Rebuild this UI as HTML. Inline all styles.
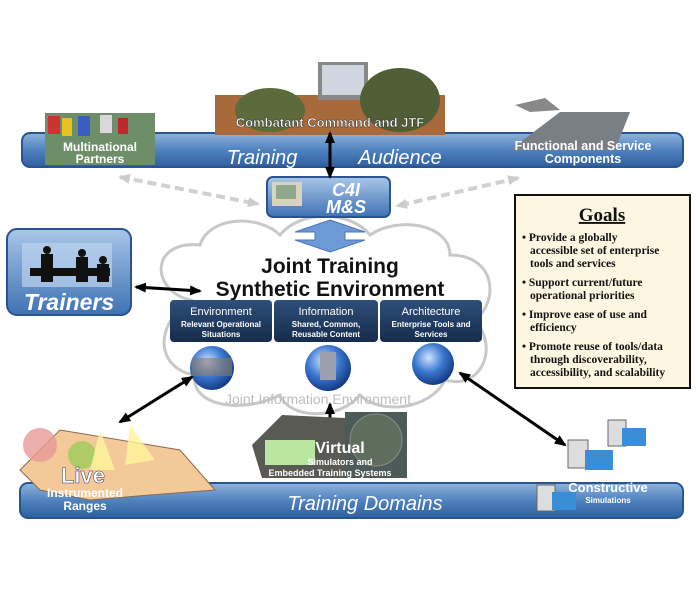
<!DOCTYPE html>
<html><head><meta charset="utf-8"><style>
html,body{margin:0;padding:0;background:#fff}
svg{display:block}
text{font-family:"Liberation Sans",sans-serif}
.s{font-family:"Liberation Serif",serif;font-weight:bold;font-size:11.5px;fill:#111}
</style></head><body>
<svg width="700" height="600" viewBox="0 0 700 600" xmlns="http://www.w3.org/2000/svg">
<defs>
<linearGradient id="bar" x1="0" y1="0" x2="0" y2="1"><stop offset="0" stop-color="#8fb3dc"/><stop offset="0.5" stop-color="#4f82bf"/><stop offset="1" stop-color="#2f5f9e"/></linearGradient>
<linearGradient id="box" x1="0" y1="0" x2="0" y2="1"><stop offset="0" stop-color="#a9c6e8"/><stop offset="1" stop-color="#3f72b4"/></linearGradient>
<linearGradient id="dk" x1="0" y1="0" x2="0" y2="1"><stop offset="0" stop-color="#2e4f7a"/><stop offset="1" stop-color="#162c4c"/></linearGradient>
<radialGradient id="gl" cx="0.4" cy="0.35" r="0.7"><stop offset="0" stop-color="#cfe3ff"/><stop offset="0.5" stop-color="#3a78d0"/><stop offset="1" stop-color="#10337a"/></radialGradient>
<marker id="ah" markerUnits="userSpaceOnUse" markerWidth="12" markerHeight="12" refX="10" refY="6" orient="auto-start-reverse"><path d="M0,1 L12,6 L0,11 z" fill="#000"/></marker>
<marker id="gh" markerUnits="userSpaceOnUse" markerWidth="12" markerHeight="12" refX="10" refY="6" orient="auto-start-reverse"><path d="M0,1 L12,6 L0,11 z" fill="#ccc"/></marker>
</defs>

<!-- cloud -->
<g fill="none" stroke="#c8c8c8" stroke-width="3">
<path d="M190,300 C150,290 150,240 200,245 C210,215 260,215 280,235 C300,210 350,210 370,235 C400,215 450,225 450,255 C495,255 500,300 475,320 C500,350 480,390 445,380 C430,410 380,415 360,395 C340,420 290,420 280,395 C240,415 190,405 195,375 C160,370 150,330 190,300 z"/>
</g>

<!-- top bar -->
<rect x="22" y="133" width="661" height="34" rx="8" fill="url(#bar)" stroke="#2a5490" stroke-width="2"/>
<rect x="45" y="113" width="110" height="52" fill="#6e8e6a"/>
<rect x="48" y="116" width="12" height="18" fill="#c33"/><rect x="62" y="118" width="10" height="18" fill="#e6c320"/><rect x="78" y="116" width="12" height="20" fill="#3a5ec0"/><rect x="100" y="115" width="12" height="18" fill="#d8d8d8"/><rect x="118" y="118" width="10" height="16" fill="#bb2a2a"/>
<rect x="215" y="95" width="230" height="40" fill="#a86a3a"/>
<rect x="318" y="62" width="50" height="38" fill="#888"/><rect x="322" y="65" width="42" height="30" fill="#cfd6e0"/>
<ellipse cx="270" cy="110" rx="35" ry="22" fill="#5d6b3c"/><ellipse cx="400" cy="100" rx="40" ry="32" fill="#4f5e35"/>
<path d="M510,150 L560,112 L630,112 L615,150 z" fill="#7a7f85"/>
<path d="M515,105 L545,98 L560,110 L530,112z" fill="#888"/>
<text x="330" y="127" text-anchor="middle" font-size="13" font-weight="bold" fill="#fff" stroke="#222" stroke-width="0.4">Combatant Command  and  JTF</text>
<text x="100" y="151" text-anchor="middle" font-size="12" font-weight="bold" fill="#fff">Multinational</text>
<text x="100" y="163" text-anchor="middle" font-size="12" font-weight="bold" fill="#fff">Partners</text>
<text x="262" y="164" text-anchor="middle" font-size="20" font-style="italic" fill="#fff">Training</text>
<text x="400" y="164" text-anchor="middle" font-size="20" font-style="italic" fill="#fff">Audience</text>
<text x="583" y="150" text-anchor="middle" font-size="12.5" font-weight="bold" fill="#fff">Functional and Service</text>
<text x="583" y="163" text-anchor="middle" font-size="12.5" font-weight="bold" fill="#fff">Components</text>

<line x1="120" y1="177" x2="258" y2="204" stroke="#d0d0d0" stroke-width="4" stroke-dasharray="9,5" marker-start="url(#gh)" marker-end="url(#gh)"/>
<line x1="518" y1="178" x2="397" y2="206" stroke="#d0d0d0" stroke-width="4" stroke-dasharray="9,5" marker-start="url(#gh)" marker-end="url(#gh)"/>

<!-- C4I -->
<rect x="267" y="177" width="123" height="40" rx="6" fill="url(#box)" stroke="#2a5490" stroke-width="2"/>
<rect x="272" y="182" width="30" height="24" fill="#d9d3bf"/><rect x="276" y="185" width="20" height="14" fill="#8fa78c"/>
<text x="346" y="196" text-anchor="middle" font-size="18" font-weight="bold" font-style="italic" fill="#fff">C4I</text>
<text x="346" y="213" text-anchor="middle" font-size="18" font-weight="bold" font-style="italic" fill="#fff">M&amp;S</text>
<line x1="330" y1="133" x2="330" y2="177" stroke="#000" stroke-width="3" marker-start="url(#ah)" marker-end="url(#ah)"/>

<path d="M330,220 L365,232 L345,232 L345,240 L365,240 L330,252 L295,240 L315,240 L315,232 L295,232 z" fill="#6d9ad6" stroke="#4a77b8"/>

<!-- Trainers -->
<rect x="7" y="229" width="124" height="86" rx="10" fill="url(#box)" stroke="#2a5490" stroke-width="2"/>
<rect x="22" y="243" width="90" height="44" fill="#bcd3ef" opacity="0.7"/>
<g fill="#111"><circle cx="47" cy="250" r="4"/><rect x="41" y="254" width="12" height="28"/><circle cx="82" cy="253" r="4"/><rect x="76" y="257" width="12" height="25"/><circle cx="103" cy="260" r="4"/><rect x="97" y="264" width="12" height="18"/><rect x="30" y="268" width="80" height="8"/></g>
<text x="69" y="310" text-anchor="middle" font-size="23" font-weight="bold" font-style="italic" fill="#fff">Trainers</text>
<line x1="136" y1="287" x2="200" y2="291" stroke="#000" stroke-width="3" marker-start="url(#ah)" marker-end="url(#ah)"/>

<text x="330" y="273" text-anchor="middle" font-size="21" font-weight="bold" fill="#111">Joint Training</text>
<text x="330" y="296" text-anchor="middle" font-size="21" font-weight="bold" fill="#111">Synthetic Environment</text>

<rect x="170" y="300" width="102" height="42" rx="4" fill="url(#dk)"/>
<rect x="274" y="300" width="104" height="42" rx="4" fill="url(#dk)"/>
<rect x="380" y="300" width="102" height="42" rx="4" fill="url(#dk)"/>
<g fill="#fff" text-anchor="middle">
<text x="221" y="315" font-size="11">Environment</text><text x="221" y="327" font-size="8" font-weight="bold">Relevant Operational</text><text x="221" y="337" font-size="8" font-weight="bold">Situations</text>
<text x="326" y="315" font-size="11">Information</text><text x="326" y="327" font-size="8" font-weight="bold">Shared, Common,</text><text x="326" y="337" font-size="8" font-weight="bold">Reusable Content</text>
<text x="431" y="315" font-size="11">Architecture</text><text x="431" y="327" font-size="8" font-weight="bold">Enterprise Tools and</text><text x="431" y="337" font-size="8" font-weight="bold">Services</text>
</g>
<circle cx="212" cy="368" r="22" fill="url(#gl)"/><rect x="192" y="358" width="40" height="18" fill="#8a7a6a" opacity="0.6"/>
<circle cx="328" cy="368" r="23" fill="url(#gl)"/><rect x="320" y="352" width="16" height="28" fill="#9aa0ae"/>
<circle cx="433" cy="364" r="21" fill="url(#gl)"/>
<text x="318" y="404" text-anchor="middle" font-size="14" fill="#bdbdbd">Joint Information Environment</text>

<line x1="192" y1="377" x2="120" y2="422" stroke="#000" stroke-width="3" marker-start="url(#ah)" marker-end="url(#ah)"/>
<line x1="330" y1="404" x2="330" y2="436" stroke="#000" stroke-width="3" marker-start="url(#ah)" marker-end="url(#ah)"/>
<line x1="460" y1="373" x2="565" y2="445" stroke="#000" stroke-width="3" marker-start="url(#ah)" marker-end="url(#ah)"/>

<!-- Goals -->
<rect x="515" y="195" width="175" height="193" fill="#fdf6e0" stroke="#111" stroke-width="2"/>
<text x="602" y="221" text-anchor="middle" font-weight="bold" font-size="19" text-decoration="underline" fill="#111" style="font-family:'Liberation Serif',serif">Goals</text>
<text class="s" x="522" y="241">• Provide a globally</text>
<text class="s" x="530" y="254">accessible set of enterprise</text>
<text class="s" x="530" y="267">tools and services</text>
<text class="s" x="522" y="286">• Support current/future</text>
<text class="s" x="530" y="299">operational priorities</text>
<text class="s" x="522" y="318">• Improve ease of use and</text>
<text class="s" x="530" y="331">efficiency</text>
<text class="s" x="522" y="350">• Promote reuse of tools/data</text>
<text class="s" x="530" y="363">through discoverability,</text>
<text class="s" x="530" y="376">accessibility, and scalability</text>

<!-- bottom bar -->
<rect x="20" y="483" width="663" height="35" rx="8" fill="url(#bar)" stroke="#2a5490" stroke-width="2"/>
<path d="M20,470 L60,430 L120,440 L180,450 L215,490 L150,495 L90,500 L40,490 z" fill="#f3c99a" stroke="#8a6a4a"/>
<circle cx="40" cy="445" r="17" fill="#e79a95" opacity="0.8"/>
<circle cx="82" cy="455" r="14" fill="#9ccc5a" opacity="0.8"/>
<path d="M100,430 L90,470 L115,470z" fill="#fff59a" opacity="0.8"/>
<path d="M130,425 L125,465 L155,460z" fill="#fff59a" opacity="0.8"/>
<path d="M252,445 L282,415 L345,418 L350,478 L262,478 z" fill="#5a5a55"/>
<rect x="265" y="440" width="50" height="25" fill="#b9e6a0"/>
<rect x="345" y="412" width="62" height="66" fill="#4c5a58"/>
<circle cx="376" cy="440" r="26" fill="#5f6e5c" stroke="#888"/>
<rect x="568" y="440" width="20" height="28" fill="#ddd" stroke="#666"/><rect x="585" y="450" width="28" height="20" fill="#3a8ed8"/>
<rect x="608" y="420" width="18" height="26" fill="#ddd" stroke="#666"/><rect x="622" y="428" width="24" height="18" fill="#3a8ed8"/>
<rect x="537" y="485" width="18" height="26" fill="#ddd" stroke="#666"/><rect x="552" y="492" width="24" height="18" fill="#3a8ed8"/>

<text x="83" y="483" text-anchor="middle" font-size="22" font-weight="bold" fill="#fff" stroke="#335" stroke-width="0.5">Live</text>
<text x="85" y="497" text-anchor="middle" font-size="12" font-weight="bold" fill="#fff">Instrumented</text>
<text x="85" y="510" text-anchor="middle" font-size="12" font-weight="bold" fill="#fff">Ranges</text>
<text x="340" y="453" text-anchor="middle" font-size="16" font-weight="bold" fill="#fff">Virtual</text>
<text x="340" y="465" text-anchor="middle" font-size="9" font-weight="bold" fill="#fff">Simulators and</text>
<text x="330" y="476" text-anchor="middle" font-size="9" font-weight="bold" fill="#fff">Embedded Training Systems</text>
<text x="365" y="510" text-anchor="middle" font-size="20" font-style="italic" fill="#fff">Training Domains</text>
<text x="608" y="492" text-anchor="middle" font-size="13" font-weight="bold" fill="#fff">Constructive</text>
<text x="608" y="503" text-anchor="middle" font-size="8" font-weight="bold" fill="#fff">Simulations</text>
</svg>
</body></html>
